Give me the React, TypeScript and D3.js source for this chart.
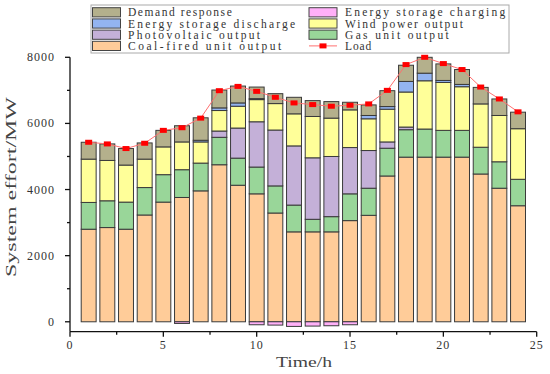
import * as d3 from "d3";

const hours = d3.range(1, 25);

// MW (bottom to top)
const coal = [2800, 2850, 2800, 3230, 3620, 3760, 3960, 4750, 4130, 3870, 3290, 2720, 2720, 2720, 3060, 3220, 4410, 4980, 4980, 4980, 4980, 4470, 4040, 3510];
const gas = [810, 810, 820, 830, 830, 840, 840, 830, 820, 810, 820, 810, 380, 460, 810, 820, 840, 830, 850, 810, 810, 810, 800, 800];
const pv = [0, 0, 0, 0, 0, 0, 0, 190, 910, 1370, 1690, 1790, 1860, 1820, 1400, 1140, 190, 80, 0, 0, 0, 0, 0, 0];
const wind = [1310, 1220, 1120, 860, 840, 840, 640, 620, 660, 670, 800, 970, 1250, 1160, 1140, 960, 990, 1060, 1460, 1450, 1320, 1310, 1400, 1530];
const essDischarge = [0, 0, 0, 0, 0, 0, 50, 80, 100, 30, 0, 0, 0, 0, 0, 100, 80, 320, 230, 60, 70, 0, 0, 0];
const demandResponse = [510, 500, 500, 490, 500, 490, 680, 540, 510, 350, 300, 500, 480, 500, 230, 320, 480, 490, 480, 500, 450, 500, 500, 500];
const essCharging = [0, 0, 0, 0, 0, -50, 0, 0, 0, -90, -100, -140, -130, -120, -90, 0, 0, 0, 0, 0, 0, 0, 0, 0];
const load = [5430, 5380, 5240, 5400, 5790, 5870, 6160, 6990, 7120, 6970, 6790, 6620, 6570, 6520, 6550, 6590, 7000, 7780, 8000, 7810, 7630, 7100, 6740, 6350];

const xTicks = [0, 5, 10, 15, 20, 25];
const yTicks = [0, 2000, 4000, 6000, 8000];

const series = [
  { key: "coal", name: "Coal-fired unit output", color: "#FFCC99", values: coal },
  { key: "gas", name: "Gas unit output", color: "#99D699", values: gas },
  { key: "pv", name: "Photovoltaic output", color: "#C4B0D8", values: pv },
  { key: "wind", name: "Wind power output", color: "#FFFF99", values: wind },
  { key: "ess", name: "Energy storage discharge", color: "#93B4F0", values: essDischarge },
  { key: "dr", name: "Demand response", color: "#B4B08C", values: demandResponse },
  { key: "chg", name: "Energy storage charging", color: "#FFB0F8", values: essCharging },
];

const legendLeft = ["Demand response", "Energy storage discharge", "Photovoltaic output", "Coal-fired unit output"];
const legendRight = ["Energy storage charging", "Wind power output", "Gas unit output", "Load"];

const FONT = "'Liberation Serif', 'DejaVu Serif', serif";

export default function App() {
  const x = d3.scaleLinear().domain([0, 25]).range([70, 536.7]);
  const y = d3.scaleLinear().domain([-300, 8000]).range([331.7, 57.3]);
  const barW = x(0.8) - x(0);

  const rows = hours.map((h, i) => {
    const r: any = { hour: h };
    series.forEach((s) => (r[s.key] = s.values[i]));
    return r;
  });
  const stacked = d3
    .stack()
    .keys(series.map((s) => s.key))
    .offset(d3.stackOffsetDiverging)(rows);

  const loadLine = d3
    .line<number>()
    .x((_, i) => x(hours[i]))
    .y((d) => y(d));

  const byName = (n: string) => series.find((s) => s.name === n);

  const legendItem = (name: string, col: number, row: number) => {
    const sx = col === 0 ? 92.5 : 309;
    const cy = 12.3 + row * 11.2;
    const s = byName(name);
    return (
      <g key={name}>
        {s ? (
          <rect x={sx} y={cy - 4.6} width={28} height={9.2} fill={s.color} stroke="#444" strokeWidth={1} />
        ) : (
          <g>
            <line x1={sx} x2={sx + 28} y1={cy} y2={cy} stroke="#FF7070" strokeWidth={1} />
            <rect x={sx + 10.5} y={cy - 2.5} width={7} height={5} fill="#FF0000" />
          </g>
        )}
        <text
          x={col === 0 ? 128 : 345}
          y={cy + 4}
          fontSize={11.5}
          textLength={name.length * 7.05 - 2}
          lengthAdjust="spacing"
          fill="#333"
        >
          {name}
        </text>
      </g>
    );
  };

  return (
    <svg
      width={550}
      height={374}
      style={{ position: "absolute", left: 0, top: 0, background: "#fff" }}
      fontFamily={FONT}
    >
      {/* stacked bars */}
      {stacked.map((layer, li) => (
        <g key={layer.key}>
          {layer.map((d, i) => {
            const h = Math.abs(y(d[0]) - y(d[1]));
            if (h < 0.01) return null;
            return (
              <rect
                key={i}
                x={x(hours[i]) - barW / 2}
                y={Math.min(y(d[0]), y(d[1]))}
                width={barW}
                height={h}
                fill={series[li].color}
                stroke="#3a3a3a"
                strokeWidth={1}
              />
            );
          })}
        </g>
      ))}

      {/* load */}
      <path d={loadLine(load) || ""} fill="none" stroke="#FF7070" strokeWidth={1} />
      {load.map((v, i) => (
        <rect key={i} x={x(hours[i]) - 3.5} y={y(v) - 2.5} width={7} height={5} fill="#FF0000" />
      ))}

      {/* axes */}
      <g stroke="#111" strokeWidth={1.3}>
        <line x1={x(0)} x2={x(0)} y1={y(-300)} y2={y(8000)} />
        <line x1={x(0)} x2={x(25)} y1={y(-300)} y2={y(-300)} />
        {d3.range(0, 8001, 1000).map((t) => (
          <line key={"yt" + t} x1={x(0)} x2={x(0) - (t % 2000 === 0 ? 5 : 3)} y1={y(t)} y2={y(t)} />
        ))}
        {d3.range(0, 25.1, 2.5).map((t) => (
          <line key={"xt" + t} x1={x(t)} x2={x(t)} y1={y(-300)} y2={y(-300) + (t % 5 === 0 ? 5 : 3)} />
        ))}
      </g>
      {yTicks.map((t) => (
        <text key={t} x={55} y={y(t) + 4} textAnchor="end" fontSize={12} fill="#333" letterSpacing={1}>
          {t}
        </text>
      ))}
      {xTicks.map((t) => (
        <text key={t} x={x(t)} y={349} textAnchor="middle" fontSize={12} fill="#333" letterSpacing={1}>
          {t}
        </text>
      ))}
      <text x={304} y={367} textAnchor="middle" fontSize={15} fill="#444" textLength={56} lengthAdjust="spacingAndGlyphs">
        Time/h
      </text>
      <text
        transform="translate(16,187) rotate(-90)"
        textAnchor="middle"
        fontSize={15.5}
        fill="#444"
        textLength={180}
        lengthAdjust="spacingAndGlyphs"
      >
        System effort/MW
      </text>

      {/* legend */}
      <rect x={91} y={5} width={418} height={48} fill="#fff" stroke="#aaa" strokeWidth={1} />
      {legendLeft.map((n, i) => legendItem(n, 0, i))}
      {legendRight.map((n, i) => legendItem(n, 1, i))}
    </svg>
  );
}
